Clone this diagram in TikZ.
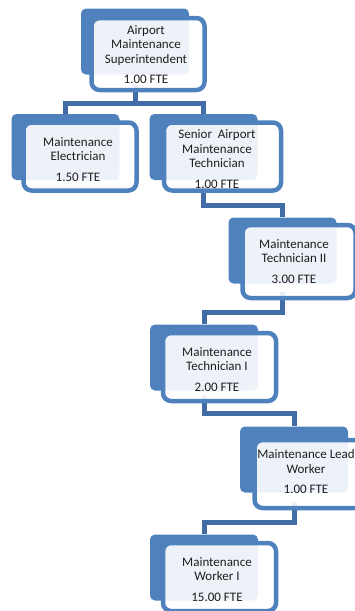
\documentclass[tikz,border=0pt]{standalone}
\usepackage{fontspec}
\setmainfont{Carlito}
\usepackage{tikz}
\usetikzlibrary{positioning}
\definecolor{BoxBlue}{RGB}{79, 129, 189}
\definecolor{LinkBlue}{RGB}{65, 108, 165}
\definecolor{Label}{RGB}{30, 30, 30}
\pgfdeclarelayer{links}
\pgfsetlayers{links,main}

\tikzset{
    back/.style={fill=BoxBlue, draw=none, rounded corners=5pt,
        minimum width=108pt, minimum height=66pt, inner sep=0pt},
    front/.style={draw=BoxBlue, line width=4.5pt, fill=white, fill opacity=0.9,
        rounded corners=8pt, minimum width=113pt, minimum height=68pt, inner sep=0pt},
    label/.style={text=Label, align=center, inner sep=0pt,
        font=\fontsize{13}{14.5}\selectfont},
    link/.style={draw=LinkBlue, line width=5pt},
}

\begin{document}
\begin{tikzpicture}[x=1pt, y=-1pt]
    %%Background
    \useasboundingbox (0,0) rectangle (355,611);
    \clip (0,0) rectangle (355,611);

    %% Back plates
    \node[back] (b1) at (135,41.5) {};
    \node[back] (b2) at (65.5,147) {};
    \node[back] (b3) at (203.5,147) {};
    \node[back] (b4) at (282.5,250.5) {};
    \node[back] (b5) at (204,357.5) {};
    \node[back] (b6) at (294,459.5) {};
    \node[back] (b7) at (204,567.5) {};

    %% Front frames
    \node[front, minimum height=72pt] (f1) at (148,54) {};
    \node[front] (f2) at (80,156.5) {};
    \node[front, minimum width=117pt] (f3) at (222.5,156.5) {};
    \node[front, minimum height=73pt] (f4) at (299,261.5) {};
    \node[front] (f5) at (219.5,367) {};
    \node[front] (f6) at (311,474) {};
    \node[front] (f7) at (219.5,577) {};

    %% Connectors, kept under the plates
    \begin{pgfonlayer}{links}
    \draw[link] ([yshift=8pt]b1 |- f1.south) -- ++(0,19) coordinate (j1) -| (b2.north);
    \draw[link] (j1) -| (b3.north);
    \draw[link] ([yshift=8pt]b3 |- f3.south) -- ++(0,21) -| (b4.north);
    \draw[link] ([yshift=8pt]b4 |- f4.south) -- ++(0,20) -| (b5.north);
    \draw[link] ([yshift=8pt]b5 |- f5.south) -- ++(0,18) -| (b6.north);
    \draw[link] ([yshift=8pt]b6 |- f6.south) -- ++(0,20) -| (b7.north);
    \end{pgfonlayer}

    %% Titles
    \node[label] (t1) at (146,54.5) {Airport\\Maintenance\\Superintendent\\[6pt]1.00 FTE};
    \node[label] (t2) at (78,159.5) {Maintenance\\Electrician\\[6pt]1.50 FTE};
    \node[label] (t3) at (217,159) {Senior\ \ Airport\\Maintenance\\Technician\\[6pt]1.00 FTE};
    \node[label] (t4) at (294,261.5) {Maintenance\\Technician II\\[6pt]3.00 FTE};
    \node[label] (t5) at (217,369.5) {Maintenance\\Technician I\\[6pt]2.00 FTE};
    \node[label] (t6) at (306,472) {Maintenance Lead\\Worker\\[6pt]1.00 FTE};
    \node[label] (t7) at (217,579.5) {Maintenance\\Worker I\\[6pt]15.00 FTE};

\end{tikzpicture}
\end{document}
